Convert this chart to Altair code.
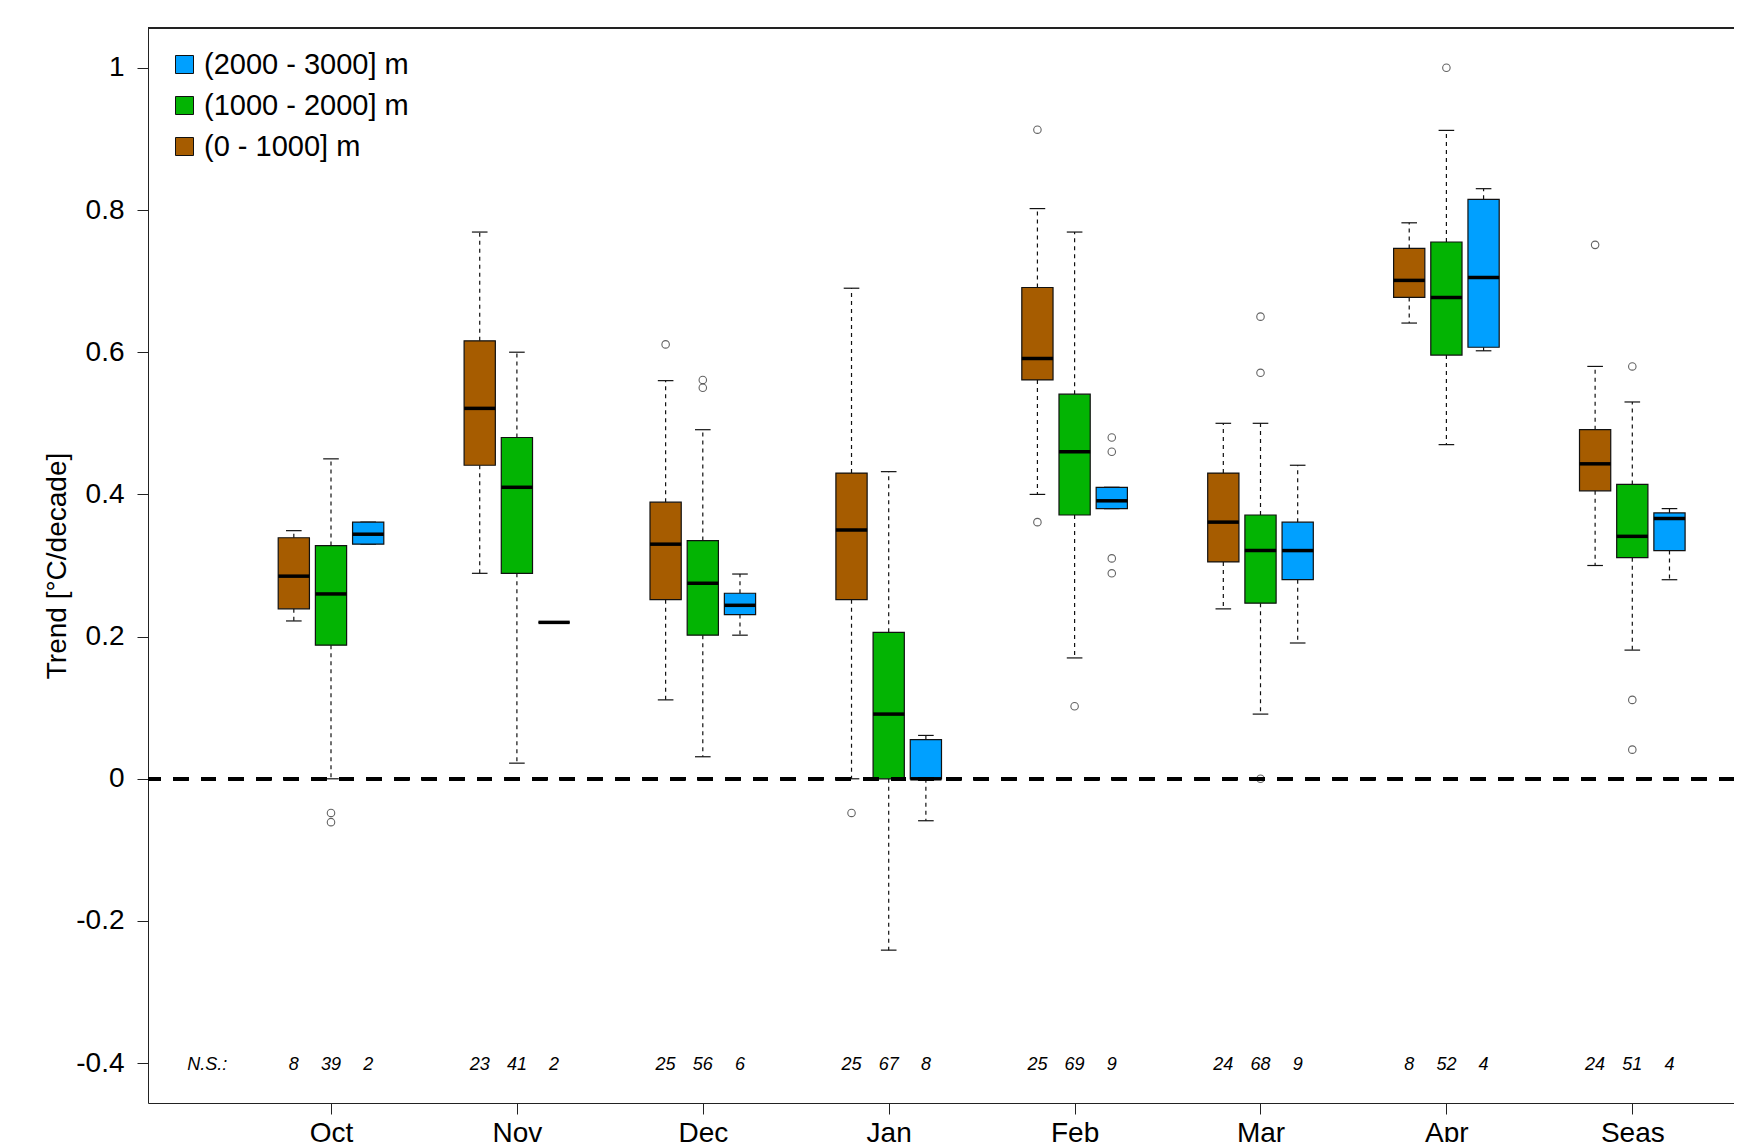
import altair as alt
import pandas as pd

months = ["Oct", "Nov", "Dec", "Jan", "Feb", "Mar", "Apr", "Seas"]
centers = [5, 10, 15, 20, 25, 30, 35, 40]
bands = ["(0 - 1000] m", "(1000 - 2000] m", "(2000 - 3000] m"]
band_offset = [-1, 0, 1]
colors = ["#A65C00", "#03B403", "#00A0FF"]

# [lower whisker, Q1, median, Q3, upper whisker] per month
stats_low = [
    [0.222, 0.239, 0.285, 0.339, 0.349],
    [0.289, 0.441, 0.521, 0.616, 0.769],
    [0.111, 0.252, 0.330, 0.389, 0.560],
    [0.000, 0.252, 0.350, 0.430, 0.690],
    [0.400, 0.561, 0.591, 0.691, 0.802],
    [0.239, 0.305, 0.361, 0.430, 0.500],
    [0.641, 0.677, 0.701, 0.746, 0.782],
    [0.300, 0.405, 0.443, 0.491, 0.580],
]
stats_mid = [
    [0.000, 0.188, 0.260, 0.328, 0.450],
    [0.022, 0.289, 0.410, 0.480, 0.600],
    [0.031, 0.202, 0.275, 0.335, 0.491],
    [-0.241, 0.000, 0.091, 0.206, 0.432],
    [0.170, 0.371, 0.460, 0.541, 0.769],
    [0.091, 0.247, 0.321, 0.371, 0.500],
    [0.470, 0.596, 0.677, 0.755, 0.912],
    [0.181, 0.311, 0.341, 0.414, 0.530],
]
stats_high = [
    [0.330, 0.330, 0.344, 0.361, 0.361],
    [0.220, 0.220, 0.220, 0.220, 0.220],
    [0.202, 0.231, 0.244, 0.261, 0.288],
    [-0.059, 0.000, 0.000, 0.055, 0.061],
    [0.380, 0.380, 0.391, 0.410, 0.410],
    [0.191, 0.280, 0.321, 0.361, 0.441],
    [0.602, 0.607, 0.705, 0.815, 0.830],
    [0.280, 0.321, 0.366, 0.374, 0.380],
]
outliers_low = [[], [], [0.611], [-0.048], [0.913, 0.361], [], [], [0.751]]
outliers_mid = [[-0.048, -0.061], [], [0.561, 0.550], [], [0.102], [0.650, 0.571, 0.0], [1.0], [0.580, 0.111, 0.041]]
outliers_high = [[], [], [], [], [0.480, 0.460, 0.310, 0.289], [], [], []]

ns_low = [8, 23, 25, 25, 25, 24, 8, 24]
ns_mid = [39, 41, 56, 67, 69, 68, 52, 51]
ns_high = [2, 2, 6, 8, 9, 9, 4, 4]
ns_label = "N.S.:"
ns_label_x = 1.67

y_ticks = [-0.4, -0.2, 0, 0.2, 0.4, 0.6, 0.8, 1]

# ---- build tables ----
box_rows, out_rows, ns_rows = [], [], []
all_stats = [stats_low, stats_mid, stats_high]
all_out = [outliers_low, outliers_mid, outliers_high]
all_ns = [ns_low, ns_mid, ns_high]
for b, band in enumerate(bands):
    for m, month in enumerate(months):
        pos = centers[m] + band_offset[b]
        lo, q1, med, q3, hi = all_stats[b][m]
        box_rows.append(dict(month=month, band=band, pos=pos, lo=lo, q1=q1, med=med, q3=q3, hi=hi))
        for v in all_out[b][m]:
            out_rows.append(dict(month=month, band=band, pos=pos, value=v))
        ns_rows.append(dict(pos=pos, label=str(all_ns[b][m])))
ns_rows.append(dict(pos=ns_label_x, label=ns_label))

box_df = pd.DataFrame(box_rows)
out_df = pd.DataFrame(out_rows)
ns_df = pd.DataFrame(ns_rows)

W, H = 1586, 1075
FONT = "Liberation Sans"
BOXW = 0.42
CAPW = 0.21

xs = alt.Scale(domain=[0.078, 0.078 + W / 37.18], nice=False, zero=False)
ys = alt.Scale(domain=[-0.456, 1.056], nice=False, zero=False)

label_map = " : ".join(f"datum.value == {c} ? '{m}'" for c, m in zip(centers, months)) + " : ''"
x_axis = alt.Axis(values=centers, labelExpr=label_map, title=None, grid=False,
                  tickSize=11, labelPadding=5, labelFontSize=28, labelFont=FONT,
                  labelColor="black", domainColor="#222", tickColor="#222", labelFlush=False)
y_axis = alt.Axis(values=y_ticks, labelExpr="'' + datum.value", title="Trend [°C/decade]",
                  grid=False, tickSize=11, labelPadding=13, labelFontSize=28, labelFont=FONT,
                  labelColor="black", domainColor="#222", tickColor="#222",
                  titleFont=FONT, titleFontSize=28, titleFontWeight="normal", titleColor="black",
                  titlePadding=4, labelFlush=False)

base = alt.Chart(box_df)
X = alt.X("pos:Q", scale=xs, axis=x_axis)

whisk_up = base.mark_rule(color="#111", strokeWidth=1.2, strokeDash=[4, 4]).encode(
    x=X, y=alt.Y("q3:Q", scale=ys, axis=y_axis), y2="hi:Q")
whisk_lo = base.mark_rule(color="#111", strokeWidth=1.2, strokeDash=[4, 4]).encode(
    x=X, y=alt.Y("q1:Q", scale=ys, axis=y_axis), y2="lo:Q")

caps_base = base.transform_calculate(cl=f"datum.pos - {CAPW}", cr=f"datum.pos + {CAPW}")
cap_hi = caps_base.mark_rule(color="#111", strokeWidth=1.2).encode(
    x=alt.X("cl:Q", scale=xs, axis=x_axis), x2="cr:Q", y=alt.Y("hi:Q", scale=ys, axis=y_axis))
cap_lo = caps_base.mark_rule(color="#111", strokeWidth=1.2).encode(
    x=alt.X("cl:Q", scale=xs, axis=x_axis), x2="cr:Q", y=alt.Y("lo:Q", scale=ys, axis=y_axis))

box_base = base.transform_calculate(bl=f"datum.pos - {BOXW}", br=f"datum.pos + {BOXW}")
boxes = box_base.mark_rect(stroke="#111", strokeWidth=1.2).encode(
    x=alt.X("bl:Q", scale=xs, axis=x_axis), x2="br:Q",
    y=alt.Y("q1:Q", scale=ys, axis=y_axis), y2="q3:Q",
    fill=alt.Fill("band:N", scale=alt.Scale(domain=bands, range=colors),
                  legend=alt.Legend(orient="none", legendX=22, legendY=22, title=None,
                                    values=[bands[2], bands[1], bands[0]],
                                    symbolType="square", symbolSize=324,
                                    symbolStrokeColor="#111", symbolStrokeWidth=1,
                                    labelFontSize=29, labelFont=FONT, labelColor="black",
                                    labelLimit=0, rowPadding=11, labelOffset=5, padding=0)))
medians = box_base.mark_rule(color="black", strokeWidth=3.5).encode(
    x=alt.X("bl:Q", scale=xs, axis=x_axis), x2="br:Q", y=alt.Y("med:Q", scale=ys, axis=y_axis))

outs = alt.Chart(out_df).mark_point(shape="circle", filled=False, color="#222", size=56, strokeWidth=1.1).encode(
    x=X, y=alt.Y("value:Q", scale=ys, axis=y_axis))

zero = alt.Chart(box_df).mark_rule(color="black", strokeWidth=3, strokeDash=[15, 12.6]).encode(
    y=alt.datum(0, scale=ys, axis=y_axis))

top = alt.Chart(box_df).mark_rule(color="#222", strokeWidth=1).encode(y=alt.value(0))

ns_text = alt.Chart(ns_df).mark_text(font=FONT, fontSize=18, fontStyle="italic", color="black",
                                     baseline="middle", align="center", dy=2).encode(
    x=X, y=alt.datum(-0.4, scale=ys, axis=y_axis), text="label:N")

chart = alt.layer(whisk_up, whisk_lo, cap_hi, cap_lo, boxes, medians, outs, zero, top, ns_text).properties(
    width=W, height=H, autosize=alt.AutoSizeParams(type="none"),
    padding={"left": 140, "top": 20, "right": 0, "bottom": 39},
    background="white",
).configure_view(stroke=None)

chart.save("out.html", embed_options={"renderer": "svg", "actions": False})
